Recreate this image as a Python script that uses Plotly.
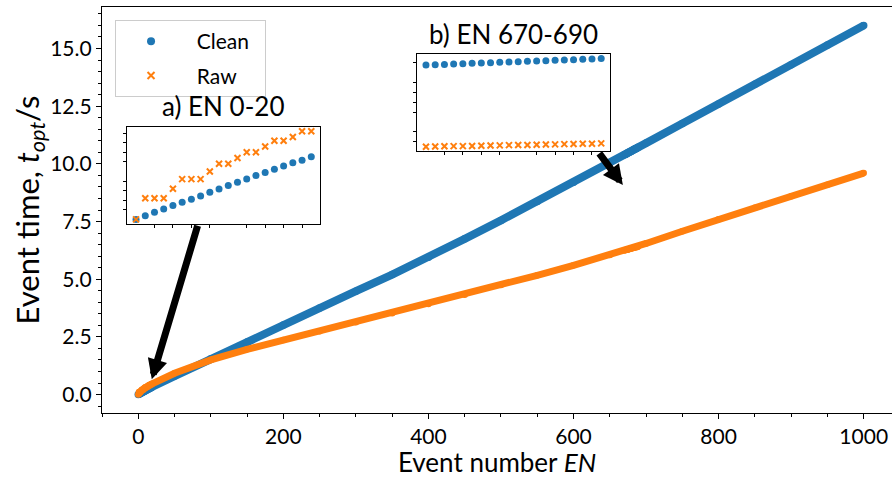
import plotly.graph_objects as go

# ---- data -------------------------------------------------------------
# Event numbers and event times (s) for the first 20 events (inset a)
EN_A = list(range(0, 20))
CLEAN_A = [0.000, 0.019, 0.037, 0.054, 0.072, 0.089, 0.105, 0.122, 0.142, 0.159,
           0.177, 0.194, 0.210, 0.229, 0.245, 0.262, 0.278, 0.295, 0.309, 0.327]
RAW_A = [0.00, 0.11, 0.11, 0.11, 0.16, 0.21, 0.21, 0.21, 0.25, 0.29,
         0.29, 0.32, 0.35, 0.35, 0.38, 0.41, 0.41, 0.43, 0.46, 0.46]

# Events 670-689 (inset b)
EN_B = list(range(670, 690))
CLEAN_B = [10.39, 10.41, 10.42, 10.44, 10.46, 10.48, 10.49, 10.51, 10.53, 10.54,
           10.56, 10.58, 10.60, 10.61, 10.63, 10.65, 10.66, 10.68, 10.70, 10.72]
RAW_B = [6.25, 6.26, 6.27, 6.28, 6.28, 6.29, 6.30, 6.31, 6.32, 6.33,
         6.34, 6.34, 6.35, 6.36, 6.37, 6.38, 6.39, 6.40, 6.40, 6.42]

# Remaining events, coarser sampling
EN_REST = [50, 100, 150, 200, 250, 300, 350, 400, 450, 500, 550, 600, 650,
           700, 750, 800, 850, 900, 950, 1000]
CLEAN_REST = [0.80, 1.55, 2.28, 3.02, 3.75, 4.48, 5.20, 5.95, 6.75, 7.55, 8.37,
              9.20, 10.05, 10.90, 11.75, 12.60, 13.45, 14.30, 15.15, 16.00]
RAW_REST = [0.92, 1.50, 1.96, 2.36, 2.74, 3.13, 3.52, 3.92, 4.33, 4.75, 5.17,
            5.60, 6.05, 6.55, 7.08, 7.60, 8.10, 8.60, 9.10, 9.60]

X_TICKS = [0, 200, 400, 600, 800, 1000]
Y_TICKS = [0.0, 2.5, 5.0, 7.5, 10.0, 12.5, 15.0]

BLUE = "#1f77b4"
ORANGE = "#ff7f0e"
FONT = "Lato, 'Open Sans', sans-serif"
NBSP = "\u00a0"


def merged(*pairs):
    pts = sorted(p for xs, ys in pairs for p in zip(xs, ys))
    return [p[0] for p in pts], [p[1] for p in pts]


def padded(values, frac=0.05):
    lo, hi = min(values), max(values)
    pad = (hi - lo) * frac
    return [lo - pad, hi + pad]


en_c, t_clean = merged((EN_A, CLEAN_A), (EN_B, CLEAN_B), (EN_REST, CLEAN_REST))
en_r, t_raw = merged((EN_A, RAW_A), (EN_B, RAW_B), (EN_REST, RAW_REST))

fig = go.Figure()

# main series
fig.add_trace(go.Scatter(x=en_c, y=t_clean, mode="lines+markers",
                         line=dict(color=BLUE, width=8),
                         marker=dict(color=BLUE, size=7.5),
                         showlegend=False, hoverinfo="skip"))
fig.add_trace(go.Scatter(x=en_r, y=t_raw, mode="lines+markers",
                         line=dict(color=ORANGE, width=7),
                         marker=dict(color=ORANGE, size=6.5),
                         showlegend=False, hoverinfo="skip"))

# legend entries
fig.add_trace(go.Scatter(x=[None], y=[None], mode="markers",
                         name=NBSP * 2 + "Clean" + NBSP * 2, legendgroup="clean",
                         marker=dict(color=BLUE, size=8)))
fig.add_trace(go.Scatter(x=[None], y=[None], mode="markers",
                         name=NBSP * 2 + "Raw", legendgroup="raw",
                         marker=dict(symbol="x-thin", size=7,
                                     line=dict(color=ORANGE, width=2))))

# inset a
fig.add_trace(go.Scatter(x=EN_A, y=CLEAN_A, mode="markers", xaxis="x2", yaxis="y2",
                         marker=dict(color=BLUE, size=7), showlegend=False))
fig.add_trace(go.Scatter(x=EN_A, y=RAW_A, mode="markers", xaxis="x2", yaxis="y2",
                         marker=dict(symbol="x-thin", size=6,
                                     line=dict(color=ORANGE, width=2)),
                         showlegend=False))
# inset b
fig.add_trace(go.Scatter(x=EN_B, y=CLEAN_B, mode="markers", xaxis="x3", yaxis="y3",
                         marker=dict(color=BLUE, size=7), showlegend=False))
fig.add_trace(go.Scatter(x=EN_B, y=RAW_B, mode="markers", xaxis="x3", yaxis="y3",
                         marker=dict(symbol="x-thin", size=6,
                                     line=dict(color=ORANGE, width=2)),
                         showlegend=False))

tick_font = dict(family=FONT, size=21, color="black")
minor_common = dict(ticks="outside", ticklen=3, tickwidth=1, tickcolor="black")

main_y = padded(t_clean + t_raw)

fig.update_layout(
    width=892, height=478,
    margin=dict(l=102, r=0, t=7, b=65),
    paper_bgcolor="white", plot_bgcolor="white",
    font=dict(family=FONT, color="black"),
    xaxis=dict(range=[-50, 1039], tickvals=X_TICKS,
               ticks="outside", ticklen=5, tickwidth=1.2, tickcolor="black",
               minor=dict(dtick=50, **minor_common),
               showline=True, linecolor="black", linewidth=1.3, mirror=True,
               showgrid=False, zeroline=False, tickfont=tick_font,
               title=dict(text="Event number <i>EN</i>",
                          font=dict(family=FONT, size=26), standoff=2)),
    yaxis=dict(range=main_y, tickvals=Y_TICKS,
               ticktext=[f"{v:.1f}" for v in Y_TICKS],
               ticks="outside", ticklen=5, tickwidth=1.2, tickcolor="black",
               minor=dict(dtick=0.5, **minor_common),
               showline=True, linecolor="black", linewidth=1.3, mirror=False,
               showgrid=False, zeroline=False, tickfont=tick_font,
               title=dict(text="Event time, <i>t</i><sub><i>opt</i></sub>/s",
                          font=dict(family=FONT, size=31), standoff=1)),
    legend=dict(x=0.0165, y=0.968, xanchor="left", yanchor="top",
                bgcolor="rgba(255,255,255,0.8)", bordercolor="#cccccc",
                borderwidth=1, font=dict(family=FONT, size=21),
                itemwidth=60, tracegroupgap=4),
)

inset_axis = dict(showline=True, linecolor="black", linewidth=1.3, mirror=True,
                  showgrid=False, zeroline=False, showticklabels=False, ticks="")

fig.update_layout(
    xaxis2=dict(domain=[0.032, 0.276], anchor="y2", range=padded(EN_A),
                minor=dict(dtick=2, **minor_common), dtick=10, **inset_axis),
    yaxis2=dict(domain=[0.466, 0.705], anchor="x2",
                range=padded(CLEAN_A + RAW_A),
                minor=dict(dtick=0.05, **minor_common), dtick=0.25, **inset_axis),
    xaxis3=dict(domain=[0.399, 0.643], anchor="y3", range=padded(EN_B),
                minor=dict(dtick=2, **minor_common), dtick=10, **inset_axis),
    yaxis3=dict(domain=[0.645, 0.884], anchor="x3",
                range=padded(CLEAN_B + RAW_B),
                minor=dict(dtick=0.5, **minor_common), dtick=2.5, **inset_axis),
)

# inset titles
fig.add_annotation(text="a) EN 0-20", xref="paper", yref="paper",
                   x=(0.032 + 0.276) / 2, y=0.712, xanchor="center", yanchor="bottom",
                   showarrow=False, font=dict(family=FONT, size=26))
fig.add_annotation(text="b) EN 670-690", xref="paper", yref="paper",
                   x=(0.399 + 0.643) / 2, y=0.89, xanchor="center", yanchor="bottom",
                   showarrow=False, font=dict(family=FONT, size=26))

# arrows from the insets to the regions they enlarge
arrow_style = dict(text="", showarrow=True, arrowhead=2, arrowsize=0.57,
                   arrowwidth=7, arrowcolor="black", xref="x", yref="y",
                   axref="x", ayref="y")
fig.add_annotation(x=18.6, y=0.66, ax=82.4, ay=7.38, **arrow_style)
fig.add_annotation(x=668, y=9.08, ax=634, ay=10.52, **arrow_style)

fig.write_html("out.html")
